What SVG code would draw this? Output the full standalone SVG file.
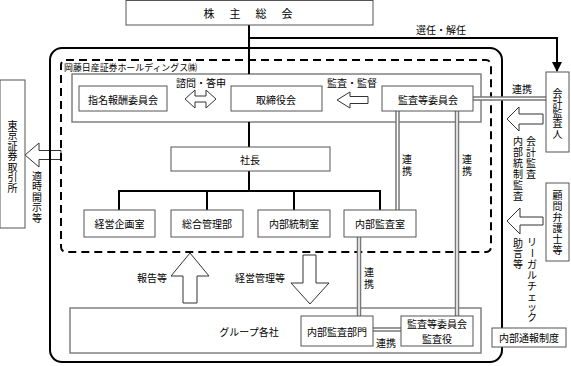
<svg xmlns="http://www.w3.org/2000/svg" width="571" height="366" viewBox="0 0 571 366">
<style>
text{font-family:"Noto Sans CJK JP","Noto Sans",sans-serif;font-size:10px;fill:#000}
.h{text-anchor:middle;dominant-baseline:central}
.box{fill:#fff;stroke:#555;stroke-width:1}
.frame{fill:none;stroke:#808080;stroke-width:1.5}
.ln{fill:none;stroke:#000;stroke-width:2}
.dbo{fill:none;stroke:#777;stroke-width:4.5}
.dbi{fill:none;stroke:#fff;stroke-width:1.5}
.arr{fill:#fff;stroke:#333;stroke-width:1}
</style>
<defs>
<marker id="ah" viewBox="0 0 10 10" refX="9" refY="5" markerWidth="5" markerHeight="5" orient="auto"><path d="M0,0 L10,5 L0,10 z" fill="#000"/></marker>
</defs>

<!-- frames -->
<g id="frames">
<rect class="frame" x="72" y="74" width="409" height="48"/>
<rect class="frame" x="70" y="308" width="411" height="45"/>
</g>

<!-- block arrows -->
<g id="block-arrows">
<polygon class="arr" points="25,155 39,143 39,150.5 61,150.5 61,159.5 39,159.5 39,167"/>
<polygon class="arr" points="507,119 519,107 519,114 543,114 543,124 519,124 519,131"/>
<polygon class="arr" points="507,221 520,208 520,217 543,217 543,225 520,225 520,234"/>
<polygon class="arr" points="337,100 350,92 350,96.5 368,96.5 368,103.5 350,103.5 350,108"/>
<polygon class="arr" points="185,99 195,90 195,96 206,96 206,90 216,99 206,108 206,102 195,102 195,108"/>
<polygon class="arr" points="190,253 209,276 197,276 197,303 183,303 183,276 171,276"/>
<polygon class="arr" points="303,255 316,255 316,283 329,283 310,304 291,283 303,283"/>
</g>

<!-- containers -->
<g id="company">
<rect x="61" y="60" width="430" height="192" rx="5" fill="none" stroke="#000" stroke-width="2" stroke-dasharray="8,5"/>
<text x="64" y="67" style="font-size:9px;dominant-baseline:central" textLength="133" lengthAdjust="spacingAndGlyphs">岡藤日産証券ホールディングス㈱</text>
</g>
<g id="group-outer">
<rect x="50" y="48" width="452" height="314" rx="12" fill="none" stroke="#000" stroke-width="2"/>
</g>

<!-- connectors -->
<g id="connectors">
<path class="ln" d="M249,25 V74"/>
<path class="ln" d="M249,38 H557 V71" marker-end="url(#ah)"/>
<path class="ln" d="M249,122 V147"/>
<path class="ln" d="M249,171 V191 M119,210 V191 H380 V210 M207,191 V210 M294,191 V210"/>
<path class="dbo" d="M473,98.5 H546 M397.5,111 V210 M457,111 V316 M359,236 V316 M373,329.5 H401"/>
<path class="dbi" d="M473,98.5 H546 M397.5,111 V210 M457,111 V316 M359,236 V316 M373,329.5 H401"/>
<text class="h" x="441" y="29">選任・解任</text>
<text class="h" x="201" y="82">諮問・答申</text>
<text class="h" x="352" y="82">監査・監督</text>
<text class="h" x="522" y="88">連携</text>
<text class="h" x="407 407" y="158 170">連携</text>
<text class="h" x="467 467" y="158 170">連携</text>
<text class="h" x="369 369" y="271 283">連携</text>
<text class="h" x="386" y="342">連携</text>
<text class="h" x="152" y="277">報告等</text>
<text class="h" x="260" y="277">経営管理等</text>
<text class="h" x="37 37 37 37 37" y="175 185.5 196 206.5 217">適時開示等</text>
<text class="h" x="531 531 531 531" y="140 151 162 173">会計監査</text>
<text class="h" x="518 518 518 518 518 518" y="140 151 162 173 184 195">内部統制監査</text>
<text x="527 528.2 527 527 527 527 527 527" y="245.6 248 267.6 278.6 289.6 300.6 310.6 320.6" rotate="0 90 0 0 0 0 0 0">リーガルチェック</text>
<text class="h" x="518 518 518" y="242 252.5 263">助言等</text>
</g>

<!-- nodes -->
<g id="n-shareholders">
<rect class="box" x="126" y="0.5" width="247" height="24.5"/>
<text class="h" x="209 235 261 287" y="13" style="font-size:11px">株主総会</text>
</g>
<g id="n-nomination">
<rect class="box" x="79" y="86" width="88" height="25"/>
<text class="h" x="123" y="99">指名報酬委員会</text>
</g>
<g id="n-board">
<rect class="box" x="231" y="86" width="91" height="25"/>
<text class="h" x="276" y="99">取締役会</text>
</g>
<g id="n-audit-committee">
<rect class="box" x="382" y="86" width="91" height="25"/>
<text class="h" x="428" y="99">監査等委員会</text>
</g>
<g id="n-auditor">
<rect class="box" x="546" y="72" width="23" height="80"/>
<text class="h" x="557.5 557.5 557.5 557.5 557.5" y="92 102.25 112.5 122.75 133">会計監査人</text>
</g>
<g id="n-lawyer">
<rect class="box" x="546" y="183" width="23" height="78"/>
<text class="h" x="557.5 557.5 557.5 557.5 557.5 557.5" y="194 205 216 227 238 249">顧問弁護士等</text>
</g>
<g id="n-tse">
<rect class="box" x="0" y="80" width="25" height="148"/>
<text class="h" x="12.5 12.5 12.5 12.5 12.5 12.5 12.5" y="124 134.5 145 155.5 166 176.5 187">東京証券取引所</text>
</g>
<g id="n-president">
<rect class="box" x="171" y="147" width="159" height="24"/>
<text class="h" x="250" y="159">社長</text>
</g>
<g id="n-planning">
<rect class="box" x="84" y="210" width="71" height="27"/>
<text class="h" x="119.5" y="223">経営企画室</text>
</g>
<g id="n-admin">
<rect class="box" x="171" y="210" width="72" height="27"/>
<text class="h" x="207" y="223">総合管理部</text>
</g>
<g id="n-control">
<rect class="box" x="258" y="210" width="72" height="27"/>
<text class="h" x="294" y="223">内部統制室</text>
</g>
<g id="n-internal-audit">
<rect class="box" x="344" y="210" width="72" height="27"/>
<text class="h" x="380" y="223">内部監査室</text>
</g>
<g id="n-group">
<text class="h" x="249" y="331">グループ各社</text>
</g>
<g id="n-group-audit">
<rect class="box" x="301" y="316" width="72" height="30"/>
<text class="h" x="337" y="331">内部監査部門</text>
</g>
<g id="n-group-committee">
<rect class="box" x="401" y="316" width="72" height="30"/>
<text class="h" x="437" y="323.5">監査等委員会</text>
<text class="h" x="437" y="338.5">監査役</text>
</g>
<g id="n-whistle">
<rect class="box" x="492" y="328" width="74" height="19"/>
<text class="h" x="529" y="337.5">内部通報制度</text>
</g>
</svg>
